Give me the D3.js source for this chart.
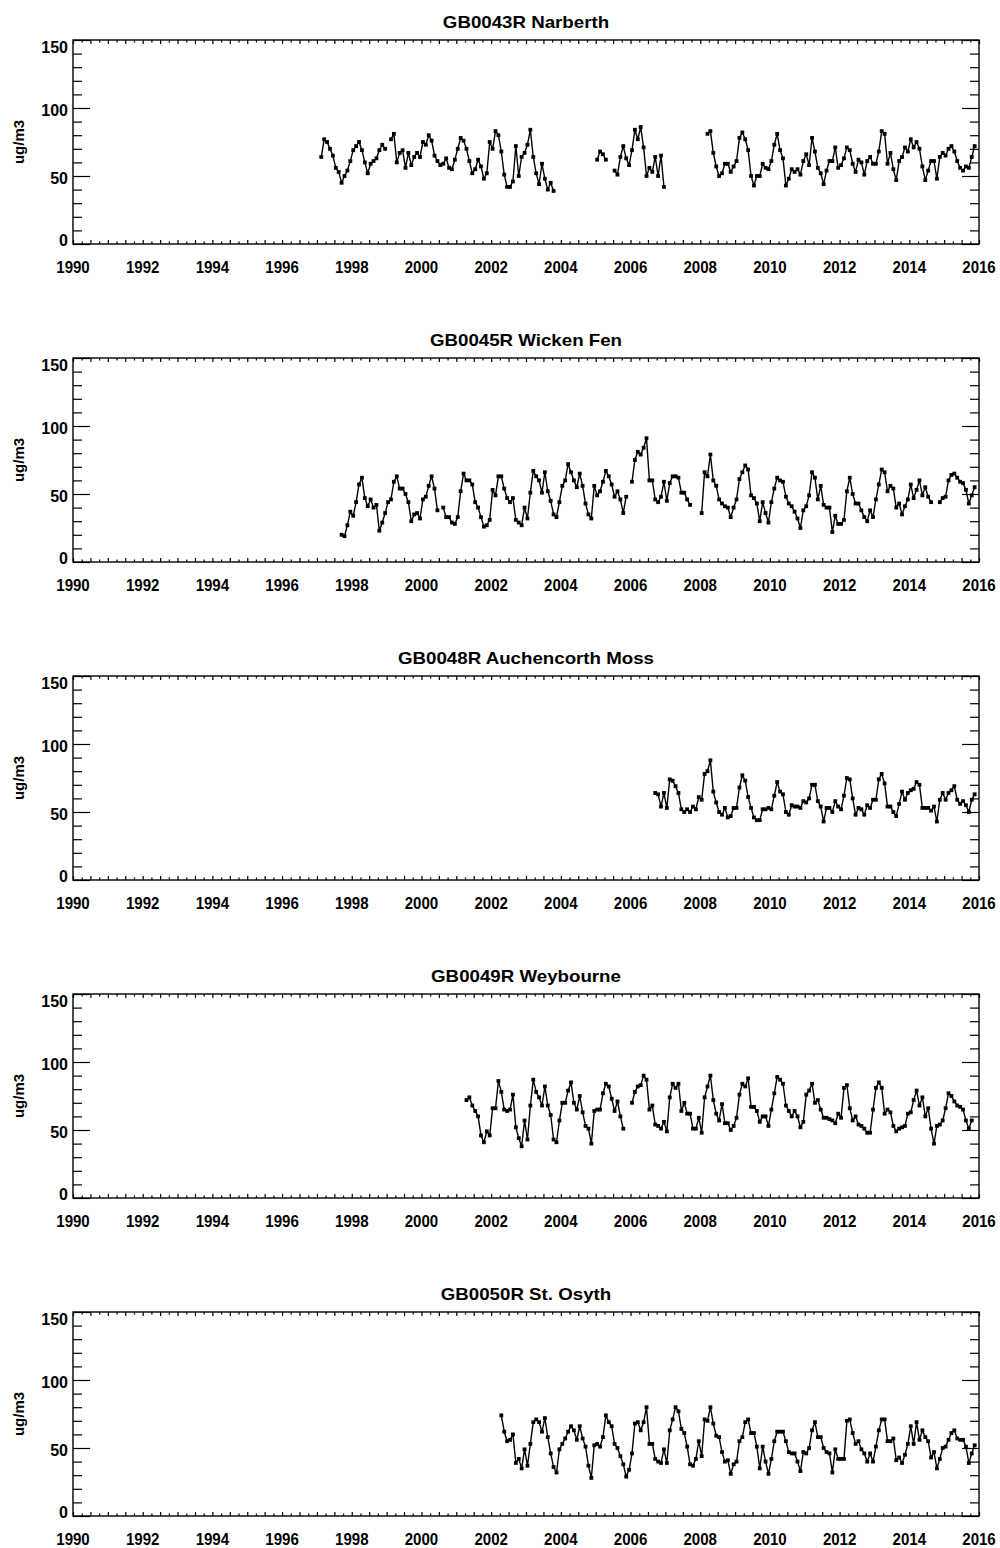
<!DOCTYPE html>
<html><head><meta charset="utf-8">
<script src="https://cdn.jsdelivr.net/npm/d3@7"></script>
<style>html,body{margin:0;padding:0;background:#fff}</style>
</head><body><svg id="chart" width="1000" height="1548"></svg>
<script>
// ---------- data ----------
const titles = ["GB0043R Narberth", "GB0045R Wicken Fen", "GB0048R Auchencorth Moss", "GB0049R Weybourne", "GB0050R St. Osyth"];
const yAxisLabel = "ug/m3";
const xTickLabels = [1990, 1992, 1994, 1996, 1998, 2000, 2002, 2004, 2006, 2008, 2010, 2012, 2014, 2016];
const yTickLabels = [0, 50, 100, 150];

// monthly means, first value at the given decimal year, one value per month (null = missing)
const narberthStart = 1997.125;
const narberth = [
  64,77,75,70,65,56,53,45,50,54, 61,69,72,75,69,60,52,59,61,63,
  69,73,70,null,77,81,60,67,69,56, 67,58,64,67,64,75,73,80,76,65,
  61,58,59,63,56,55,62,70,78,76, 70,61,52,55,62,57,48,52,75,70,
  83,80,68,51,42,42,46,72,50,64, 67,73,84,64,52,44,59,48,40,45,
  39,
  null,null,null,null,null,null,null,null,null,null,null,null,null,null,
  62,68,66,62,
  null,null,
  54,51,64,72,63,58,69,84,77,86,71,50,56,53,64,50,65,42,
  null,null,null,null,null,null,null,null,null,null,null,null,null,null,
  81,83,67,57,50,52,59,59,53,57, 61,78,82,77,69,50,43,50,50,59,
  56,55,61,73,81,69,63,43,48,55, 53,55,51,61,66,58,78,68,56,52,
  44,54,61,61,71,56,58,63,71,69, 59,53,62,60,51,61,64,59,59,68,
  83,81,59,67,55,47,61,64,71,68, 77,71,75,70,57,47,54,61,61,48,
  64,67,65,70,72,68,61,56,54,57, 56,64,72
];

const wickenStart = 1997.708;
const wicken = [
  20,19,27,37,34,44,57,62,47,41, 46,40,42,23,29,36,44,46,59,63,
  54,54,50,44,30,35,36,32,46,48, 56,63,54,38,
  null,
  40,33,33,29,28,33,52,65,60,60, 57,44,40,33,26,27,31,53,49,63,
  63,54,47,44,47,31,29,27,40,32, 51,67,63,60,51,66,52,45,35,33,
  44,56,60,72,66,60,55,65,56,43, 35,32,56,49,52,59,67,63,57,48,
  52,46,36,48,
  null,
  59,75,81,79,84,91,60,60,46,44, 48,59,45,58,63,63,62,51,51,46, 42,
  null,null,null,
  36,66,63,79,60,56,46,43,41,40, 33,40,46,61,66,71,68,49,47,43,
  30,44,36,29,44,54,62,60,59,48, 43,41,37,32,25,38,41,49,66,62,
  46,56,42,40,40,22,34,28,28,31, 52,62,50,43,43,38,33,30,38,33,
  46,57,68,66,52,56,54,40,43,35, 41,46,57,47,53,60,49,55,48,44,
  null,null,
  44,47,48,60,64,65,62,59,58,53,43,49,55
];

const auchencorthStart = 2006.708;
const auchencorth = [
  64,63,54,64,53,74,73,69,64,52, 50,52,50,54,52,61,59,78,80,88,
  65,57,50,48,53,46,47,53,53,68, 77,73,61,53,46,44,44,52,52,53,
  52,62,72,65,63,50,48,55,54,54, 53,58,57,60,70,70,58,54,43,53,
  53,50,58,54,52,62,75,74,60,48, 53,52,48,55,53,59,59,74,78,71,
  54,54,50,47,56,65,59,64,66,67, 72,70,53,53,53,51,54,43,59,64,
  59,64,66,69,59,56,58,55,50,59, 63
];

const weybourneStart = 2001.292;
const weybourne = [
  72,74,68,64,60,46,41,49,46,66, 66,86,78,65,64,65,76,52,44,38,
  57,43,68,87,78,74,68,82,68,61, 43,41,57,70,70,79,85,70,65,75,
  63,53,51,40,64,65,65,77,84,82, 73,64,71,60,51,
  null,null,
  70,78,82,83,90,87,65,68,54,53, 51,56,49,74,84,81,84,64,70,62,
  62,51,51,59,48,74,82,90,72,62, 57,69,55,55,50,53,59,76,84,82,
  88,67,67,64,56,60,60,53,65,77, 89,87,84,68,64,60,64,60,52,56,
  76,79,84,70,72,65,59,59,58,57, 55,62,59,81,83,66,57,60,54,
  53,51,48,48,65,81,85,81,62,
  65,63,53,49,51,52,53,62,63,72, 79,68,74,60,66,51,40,53,54,57,
  66,77,75,71,68,67,65,57,51,57
];

const stOsythStart = 2002.292;
const stOsyth = [
  74,62,55,56,60,39,42,35,49,37, 53,69,71,69,62,72,58,46,36,32,
  49,53,57,62,66,63,56,66,57,51, 37,28,52,53,51,58,74,69,66,53,
  50,44,38,29,34,46,68,69,63,69, 80,53,53,42,40,39,49,39,63,71,
  80,77,64,61,51,38,37,42,55,44, 71,70,80,68,59,58,47,40,41,31,
  38,40,55,58,69,71,61,61,51,35, 51,40,31,42,55,62,62,62,55,47,
  46,46,40,33,47,46,50,63,69,58, 58,50,47,46,32,49,42,42,42,70,
  71,61,53,55,49,46,40,46,40,51, 63,71,71,55,55,57,41,43,39,45,
  53,66,53,69,56,63,58,55,43,47, 35,42,50,51,56,61,63,57,56,56,
  51,39,46,52
];

const panels = [
  {title: titles[0], start: narberthStart, values: narberth},
  {title: titles[1], start: wickenStart, values: wicken},
  {title: titles[2], start: auchencorthStart, values: auchencorth},
  {title: titles[3], start: weybourneStart, values: weybourne},
  {title: titles[4], start: stOsythStart, values: stOsyth}
];

// ---------- drawing ----------
const FONT = "'Liberation Sans', Arial, Helvetica, sans-serif";
const svg = d3.select("#chart");
svg.append("rect").attr("width", 1000).attr("height", 1548).attr("fill", "#fff");

const L = 73, R = 979, H = 204, STEP = 318, TOP0 = 40;
const x = d3.scaleLinear().domain([1990, 2016]).range([L, R]);

function styleAxis(g) {
  g.select(".domain").remove();
  g.selectAll(".tick line").attr("stroke", "#000").attr("stroke-width", 1.2);
  g.selectAll(".tick text").remove();
}

function stretch(sel, factor) {
  sel.each(function () {
    const w = this.getComputedTextLength();
    d3.select(this).attr("textLength", w * factor).attr("lengthAdjust", "spacingAndGlyphs");
  });
}

panels.forEach((p, k) => {
  const top = TOP0 + k * STEP, bottom = top + H;
  const y = d3.scaleLinear().domain([0, 150]).range([bottom, top]);
  const g = svg.append("g");

  const quarters = d3.range(0, 26 * 4 + 1).map(i => 1990 + i / 4);
  const halfs = quarters.filter((v, i) => i % 2 === 0);
  const qOnly = quarters.filter((v, i) => i % 2 === 1);

  // bottom/top x ticks
  g.append("g").attr("transform", `translate(0,${bottom})`)
    .call(d3.axisBottom(x).tickValues(halfs).tickSize(-4).tickFormat("")).call(styleAxis);
  g.append("g").attr("transform", `translate(0,${bottom})`)
    .call(d3.axisBottom(x).tickValues(qOnly).tickSize(-2.5).tickFormat("")).call(styleAxis);
  g.append("g").attr("transform", `translate(0,${top})`)
    .call(d3.axisTop(x).tickValues(halfs).tickSize(-4).tickFormat("")).call(styleAxis);
  g.append("g").attr("transform", `translate(0,${top})`)
    .call(d3.axisTop(x).tickValues(qOnly).tickSize(-2.5).tickFormat("")).call(styleAxis);

  // y ticks left/right
  const minorY = d3.range(0, 151, 10).filter(v => v % 50 !== 0);
  g.append("g").attr("transform", `translate(${L},0)`)
    .call(d3.axisLeft(y).tickValues(minorY).tickSize(-9).tickFormat("")).call(styleAxis);
  g.append("g").attr("transform", `translate(${L},0)`)
    .call(d3.axisLeft(y).tickValues(yTickLabels).tickSize(-17).tickFormat("")).call(styleAxis);
  g.append("g").attr("transform", `translate(${R},0)`)
    .call(d3.axisRight(y).tickValues(minorY).tickSize(-9).tickFormat("")).call(styleAxis);
  g.append("g").attr("transform", `translate(${R},0)`)
    .call(d3.axisRight(y).tickValues(yTickLabels).tickSize(-17).tickFormat("")).call(styleAxis);

  // frame
  g.append("rect").attr("x", L).attr("y", top).attr("width", R - L).attr("height", H)
    .attr("fill", "none").attr("stroke", "#000").attr("stroke-width", 1.4);

  // x tick labels
  g.selectAll(".xl").data(xTickLabels).enter().append("text")
    .attr("x", d => x(d)).attr("y", bottom + 29)
    .attr("text-anchor", "middle").attr("font-family", FONT).attr("font-weight", "bold")
    .attr("font-size", 16).attr("fill", "#000").text(d => d)
    .call(stretch, 0.94);

  // y tick labels (IDL-style: ends pulled inside range)
  g.selectAll(".yl").data(yTickLabels).enter().append("text")
    .attr("x", L - 5)
    .attr("y", (d, i) => y(d) + (i === 0 ? 1.5 : (i === yTickLabels.length - 1 ? 12.5 : 8)))
    .attr("text-anchor", "end").attr("font-family", FONT).attr("font-weight", "bold")
    .attr("font-size", 16).attr("fill", "#000").text(d => d);

  // y axis title
  g.append("text").attr("transform", `translate(24,${(top + bottom) / 2}) rotate(-90)`)
    .attr("text-anchor", "middle").attr("font-family", FONT).attr("font-weight", "bold")
    .attr("font-size", 15).attr("fill", "#000").text(yAxisLabel);

  // title
  g.append("text").attr("x", (L + R) / 2).attr("y", top - 12)
    .attr("text-anchor", "middle").attr("font-family", FONT).attr("font-weight", "bold")
    .attr("font-size", 17).attr("fill", "#000").text(p.title)
    .call(stretch, 1.1);

  // data
  const pts = p.values.map((v, i) => ({t: p.start + i / 12, v: v}));
  const line = d3.line().defined(d => d.v != null).x(d => x(d.t)).y(d => y(d.v));
  g.append("path").datum(pts).attr("d", line)
    .attr("fill", "none").attr("stroke", "#000").attr("stroke-width", 1.4).attr("stroke-linejoin", "round");
  g.selectAll(".pt").data(pts.filter(d => d.v != null)).enter().append("rect")
    .attr("x", d => x(d.t) - 1.9).attr("y", d => y(d.v) - 1.9)
    .attr("width", 3.8).attr("height", 3.8).attr("fill", "#000");
});
</script>
</body></html>
